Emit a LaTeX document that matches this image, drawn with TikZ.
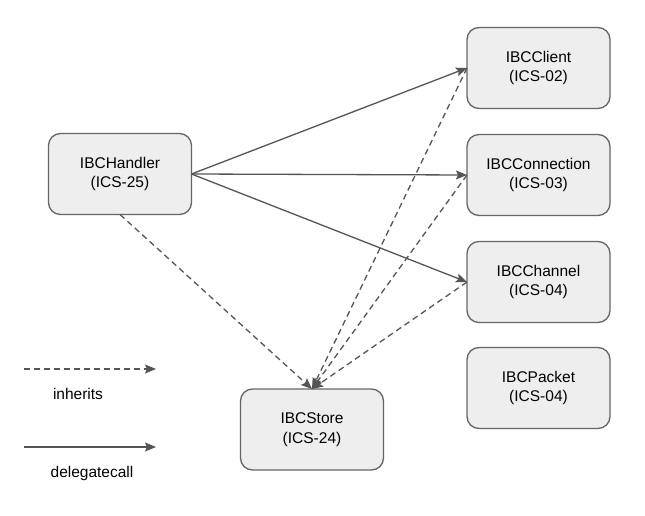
\documentclass[tikz,border=0pt]{standalone}
\usepackage{fontspec}
\setmainfont{Liberation Sans}
\usetikzlibrary{arrows.meta}
\definecolor{boxfill}{HTML}{EEEEEE}
\definecolor{boxline}{HTML}{666666}
\definecolor{conn}{HTML}{555555}
\tikzset{
  ibcbox/.style={draw=boxline, fill=boxfill, line width=1.3pt, rounded corners=12pt,
    minimum width=143pt, minimum height=81pt, align=center, inner sep=0pt, outer sep=0pt,
    font=\fontsize{15.5}{19.5}\selectfont},
  tip/.style={-{Stealth[length=11pt,width=9pt,inset=2pt]}},
  delegate/.style={draw=conn, line width=1.3pt, tip},
  inherit/.style={draw=conn, line width=1.3pt, tip, dash pattern=on 6pt off 4pt},
  lbl/.style={font=\fontsize{15.5}{19.5}\selectfont, inner sep=0pt}
}
\begin{document}
\begin{tikzpicture}[x=1pt,y=-1pt]
\useasboundingbox (0,0) rectangle (645,516);
\fill[white] (0,0) rectangle (645,516);
\node[ibcbox] (handler) at (120,174) {IBCHandler\\(ICS-25)};
\node[ibcbox] (store) at (312,429.5) {IBCStore\\(ICS-24)};
\node[ibcbox] (client) at (538.5,68) {IBCClient\\(ICS-02)};
\node[ibcbox] (connection) at (538.5,175) {IBCConnection\\(ICS-03)};
\node[ibcbox] (channel) at (538.5,282) {IBCChannel\\(ICS-04)};
\node[ibcbox] (packet) at (538.5,388) {IBCPacket\\(ICS-04)};

\draw[delegate] (handler.east) -- (client.west);
\draw[delegate] (handler.east) -- (connection.west);
\draw[delegate] (handler.east) -- (channel.west);

\draw[inherit] (handler.south) -- (store.north);
\draw[inherit] (client.west) -- (store.north);
\draw[inherit] (connection.west) -- (store.north);
\draw[inherit] (channel.west) -- (store.north);

\coordinate (la1) at (24,369);
\coordinate (la2) at (156,369);
\coordinate (lb1) at (24,447);
\coordinate (lb2) at (156,447);
\draw[inherit] (la1) -- (la2);
\draw[delegate] (lb1) -- (lb2);
\node[lbl] (linh) at (78,394) {inherits};
\node[lbl] (ldel) at (92,473) {delegatecall};
\end{tikzpicture}
\end{document}
